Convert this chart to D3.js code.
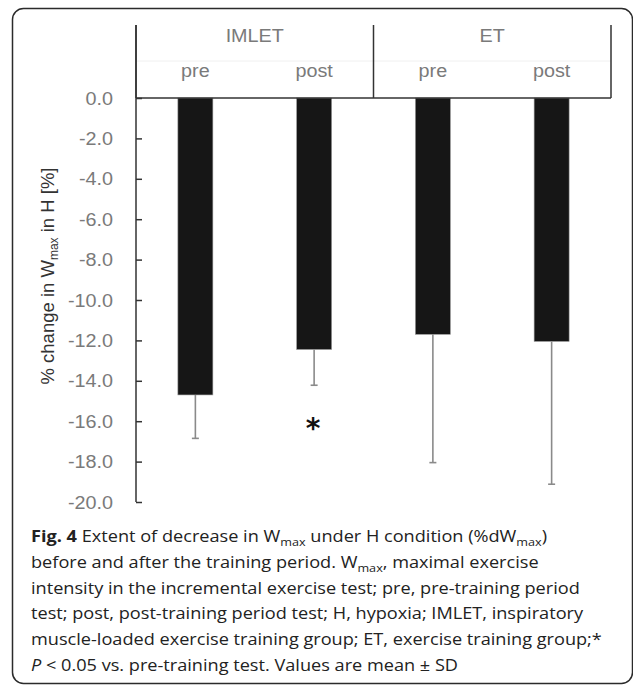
<!DOCTYPE html>
<html>
<head>
<meta charset="utf-8">
<script src="https://cdn.jsdelivr.net/npm/d3@7"></script>
<style>
html,body{margin:0;padding:0;background:#fff;}
svg{display:block;}
</style>
</head>
<body>
<svg id="chart" width="633" height="685"></svg>
<script>
// ---- data ----
const groups = ["IMLET", "ET"];
const periods = ["pre", "post"];
const categories = ["IMLET pre", "IMLET post", "ET pre", "ET post"];
const means = [-14.7, -12.45, -11.7, -12.05];
const sds = [2.15, 1.77, 6.35, 7.07];
const significant = [false, true, false, false];
const yTicks = [0, -2, -4, -6, -8, -10, -12, -14, -16, -18, -20];

const svg = d3.select("#chart");

// frame
svg.append("rect")
  .attr("x", 12.5).attr("y", 8.5)
  .attr("width", 620).attr("height", 675)
  .attr("rx", 11).attr("ry", 11)
  .attr("fill", "none").attr("stroke", "#2b2b2b").attr("stroke-width", 1.5);

const left = 136, right = 611, zeroY = 98, bottomY = 502, headerTop = 25;

const x = d3.scaleBand().domain(categories).range([left, right]).paddingInner(0).paddingOuter(0);
const y = d3.scaleLinear().domain([0, -20]).range([zeroY, bottomY]);
const xg = d3.scaleBand().domain(groups).range([left, right]);

const font = "'Liberation Sans', Arial, sans-serif";
const grey = "#7a7a7a";
const axisCol = "#333";
const fs = 18.5, sx = 1.07;

function stretchText(sel, px, py, anchor) {
  return sel.attr("transform", (d, i) => `translate(${px(d, i)},${py(d, i)}) scale(${sx},1)`)
    .attr("text-anchor", anchor);
}

// header faint separator
svg.append("line")
  .attr("x1", left).attr("x2", right).attr("y1", 61).attr("y2", 61)
  .attr("stroke", "#f0f0f0").attr("stroke-width", 1);

// header vertical lines
const vlines = [left, xg("ET"), right];
svg.selectAll(".vline").data(vlines).enter().append("line")
  .attr("x1", d => d).attr("x2", d => d)
  .attr("y1", headerTop).attr("y2", zeroY)
  .attr("stroke", axisCol).attr("stroke-width", 1.5);

// group labels
stretchText(svg.selectAll(".glab").data(groups).enter().append("text"),
  d => xg(d) + xg.bandwidth() / 2, () => 42, "middle")
  .attr("font-family", font).attr("font-size", fs)
  .attr("fill", grey)
  .text(d => d);

// period labels
stretchText(svg.selectAll(".plab").data(categories).enter().append("text"),
  d => x(d) + x.bandwidth() / 2, () => 77, "middle")
  .attr("font-family", font).attr("font-size", fs)
  .attr("fill", grey)
  .text((d, i) => periods[i % 2]);

// bars
const bw = 35;
svg.selectAll(".bar").data(categories).enter().append("rect")
  .attr("x", d => x(d) + x.bandwidth() / 2 - bw / 2)
  .attr("y", y(0))
  .attr("width", bw)
  .attr("height", (d, i) => y(means[i]) - y(0))
  .attr("fill", "#161616")
  .attr("stroke", "#9a9a9a").attr("stroke-width", 0.6);

// error bars
const eb = svg.append("g");
categories.forEach((c, i) => {
  const cx = x(c) + x.bandwidth() / 2;
  eb.append("line")
    .attr("x1", cx).attr("x2", cx)
    .attr("y1", y(means[i])).attr("y2", y(means[i] - sds[i]))
    .attr("stroke", "#8a8a8a").attr("stroke-width", 1.6);
  eb.append("line")
    .attr("x1", cx - 3.5).attr("x2", cx + 3.5)
    .attr("y1", y(means[i] - sds[i])).attr("y2", y(means[i] - sds[i]))
    .attr("stroke", "#8a8a8a").attr("stroke-width", 1.6);
  if (significant[i]) {
    svg.append("text")
      .attr("x", cx - 1)
      .attr("y", y(means[i] - sds[i]) + 53)
      .attr("text-anchor", "middle")
      .attr("font-family", "'DejaVu Sans', sans-serif").attr("font-size", 28)
      .attr("font-weight", "bold")
      .attr("fill", "#111")
      .text("*");
  }
});

// zero line
svg.append("line")
  .attr("x1", left).attr("x2", right).attr("y1", y(0)).attr("y2", y(0))
  .attr("stroke", axisCol).attr("stroke-width", 1.5);

// y axis
const yAxis = d3.axisRight(y).tickValues(yTicks).tickSize(6).tickFormat("");
const ga = svg.append("g").attr("transform", `translate(${left},0)`).call(yAxis);
ga.select(".domain").remove();
ga.selectAll(".tick line").attr("stroke", axisCol).attr("stroke-width", 1.5);
svg.append("line")
  .attr("x1", left).attr("x2", left).attr("y1", headerTop).attr("y2", bottomY)
  .attr("stroke", axisCol).attr("stroke-width", 1.5);

// tick labels
stretchText(svg.selectAll(".tl").data(yTicks).enter().append("text"),
  () => 113, d => y(d) + 6.5, "end")
  .attr("font-family", font).attr("font-size", fs)
  .attr("fill", grey)
  .text(d => d3.format(".1f")(d).replace("−", "-"));

// y label
const yl = svg.append("text")
  .attr("transform", "translate(54,276) rotate(-90)")
  .attr("text-anchor", "middle")
  .attr("font-family", font).attr("font-size", 18.5)
  .attr("fill", "#333");
yl.append("tspan").text("% change in W");
yl.append("tspan").attr("font-size", 12).attr("dy", 4).text("max");
yl.append("tspan").attr("dy", -4).text(" in H [%]");

// caption
const capFont = "'Open Sans', 'Noto Sans', sans-serif";
const capX = 31, capY0 = 542, capDy = 25.8;
const capLines = [
  [["b", "Fig. 4"], ["t", " Extent of decrease in W"], ["s", "max"], ["t", " under H condition (%dW"], ["s", "max"], ["t", ")"]],
  [["t", "before and after the training period. W"], ["s", "max"], ["t", ", maximal exercise"]],
  [["t", "intensity in the incremental exercise test; pre, pre-training period"]],
  [["t", "test; post, post-training period test; H, hypoxia; IMLET, inspiratory"]],
  [["t", "muscle-loaded exercise training group; ET, exercise training group;*"]],
  [["i", "P"], ["t", " < 0.05 vs. pre-training test. Values are mean ± SD"]]
];
capLines.forEach((parts, li) => {
  const t = svg.append("text")
    .attr("transform", `translate(${capX},${capY0 + li * capDy}) scale(1.1,1)`)
    .attr("font-family", capFont).attr("font-size", 16.5)
    .attr("fill", "#222");
  let shifted = false;
  parts.forEach(([k, s]) => {
    const ts = t.append("tspan").text(s);
    if (k === "b") ts.attr("font-weight", "bold");
    if (k === "i") ts.attr("font-style", "italic");
    if (k === "s") { ts.attr("font-size", 11.5).attr("dy", 4); shifted = true; }
    else if (shifted) { ts.attr("dy", -4); shifted = false; }
  });
});
</script>
</body>
</html>
